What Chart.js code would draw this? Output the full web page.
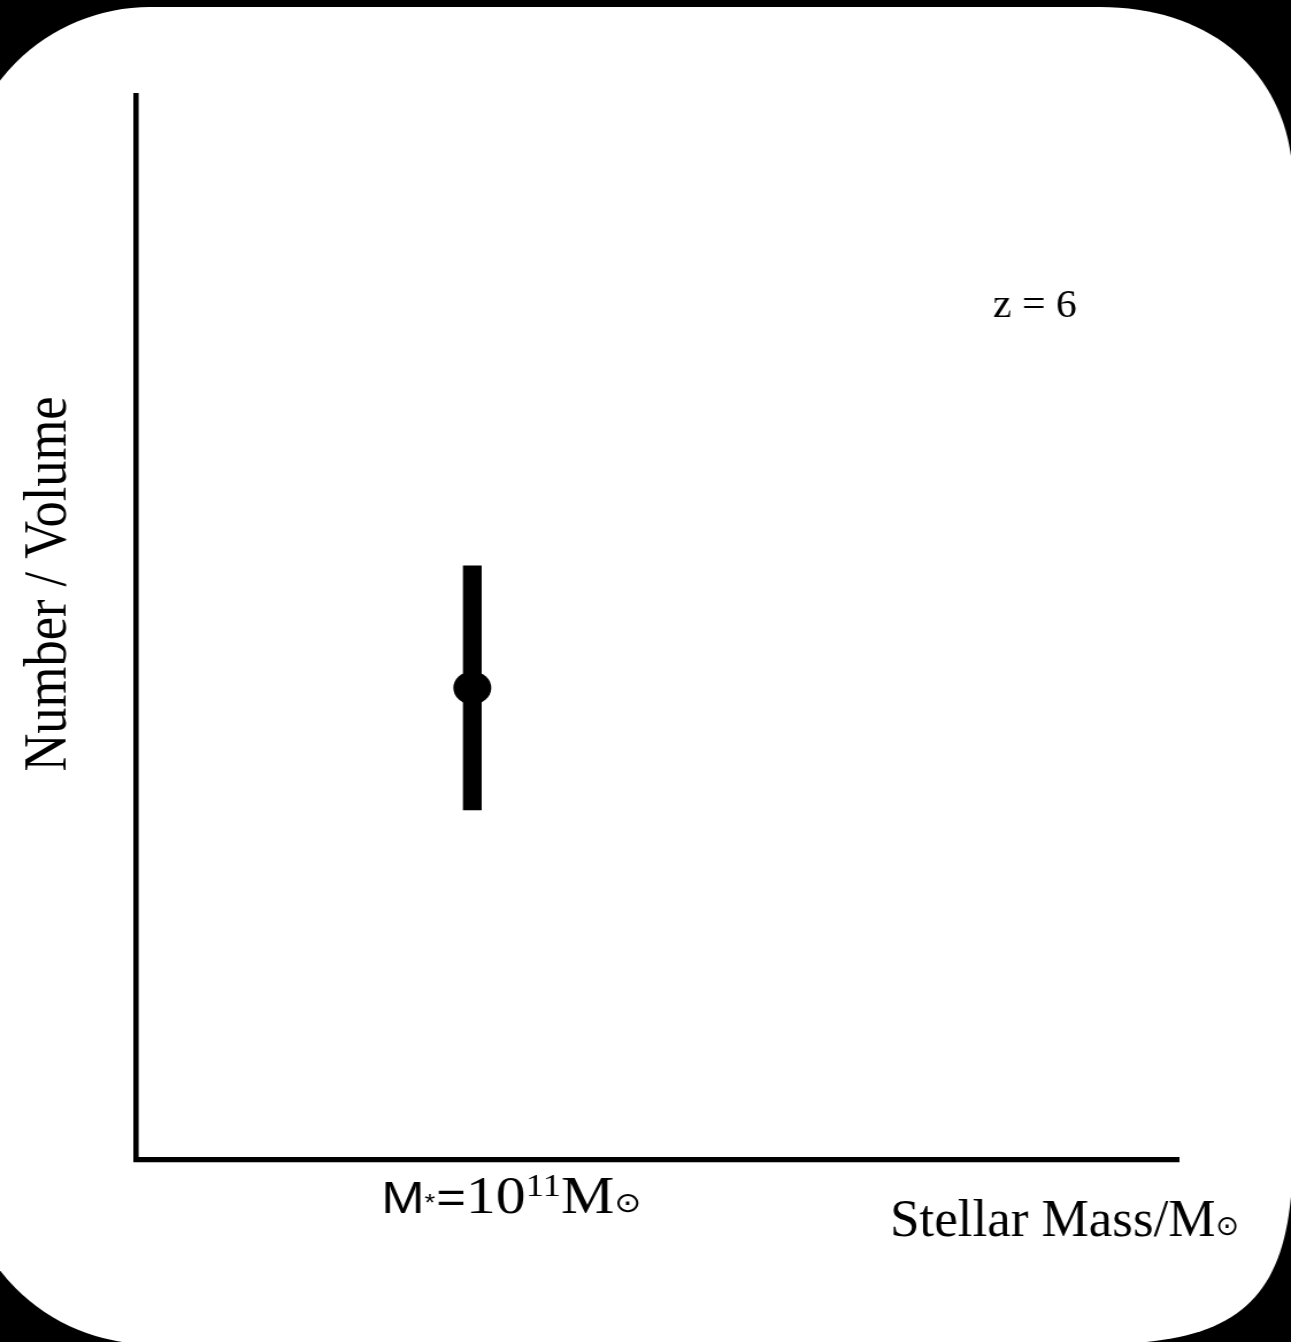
<!DOCTYPE html>
<html>
<head>
<meta charset="utf-8">
<script src="https://cdn.jsdelivr.net/npm/chart.js@4/dist/chart.umd.min.js"></script>
<style>
  html, body { margin: 0; padding: 0; background: #000; overflow: hidden; }
  #page { position: relative; width: 1291px; height: 1342px; overflow: hidden; }
  /* the slide is shown widened horizontally */
  #wrap { position: absolute; left: 0; top: 0; transform-origin: 0 0; }
  canvas { display: block; }
</style>
</head>
<body>
<div id="page"><div id="wrap"><canvas id="c"></canvas></div></div>
<script>
// Single measurement: log10 stellar mass and its number density (arbitrary units)
const massValues = [11];
const densityValues = [4.43];
const densityLow = [3.28];
const densityHigh = [5.58];

// Axis ranges
const xRange = [10, 13.1];
const yRange = [0, 10];

// Texts
const redshiftLabel = 'z = 6';
const xTitle = 'Stellar Mass/M';
const yTitle = 'Number / Volume';
const sunSymbol = '\u2299';

const PAGE_W = 1291, PAGE_H = 1342;
const STRETCH = 1.1496;
const CANVAS_W = Math.round(PAGE_W / STRETCH);
const SX = PAGE_W / CANVAS_W;

const SERIF = "'Liberation Serif', 'Times New Roman', 'DejaVu Serif', serif";
const SANS = "'Liberation Sans', Arial, 'DejaVu Sans', sans-serif";
const SYMBOL = "'DejaVu Sans', sans-serif";

const cv = document.getElementById('c');
cv.width = CANVAS_W;
cv.height = PAGE_H;
document.getElementById('wrap').style.transform = `scaleX(${SX})`;

// White rounded panel on black, laid out in page pixels
const panelPlugin = {
  id: 'panel',
  beforeDraw(chart) {
    const ctx = chart.ctx;
    ctx.save();
    ctx.fillStyle = '#000';
    ctx.fillRect(0, 0, chart.width, chart.height);
    ctx.scale(1 / SX, 1);
    const top = 7, bottom = 1344, left = -40, right = 1293, r = 190;
    ctx.beginPath();
    ctx.moveTo(left + r, top);
    ctx.lineTo(1100, top);
    ctx.bezierCurveTo(1100 + 0.6 * (right - 1100), top, right, 185 - 0.6 * (185 - top), right, 185);
    ctx.lineTo(right, 1150);
    ctx.bezierCurveTo(right, 1150 + 0.75 * (bottom - 1150), 1100 + 0.75 * (right - 1100), bottom, 1100, bottom);
    ctx.lineTo(left + r, bottom);
    ctx.arc(left + r, bottom - r, r, Math.PI / 2, Math.PI);
    ctx.lineTo(left, top + r);
    ctx.arc(left + r, top + r, r, Math.PI, Math.PI * 1.5);
    ctx.closePath();
    ctx.fillStyle = '#fff';
    ctx.fill();
    ctx.restore();
  }
};

// Vertical error bars from the low/high arrays
const errorBarPlugin = {
  id: 'errorBars',
  beforeDatasetsDraw(chart) {
    const ctx = chart.ctx;
    const xs = chart.scales.x, ys = chart.scales.y;
    ctx.save();
    ctx.strokeStyle = '#000';
    ctx.lineWidth = 16.3;
    ctx.lineCap = 'butt';
    massValues.forEach((m, i) => {
      const px = xs.getPixelForValue(m);
      ctx.beginPath();
      ctx.moveTo(px, ys.getPixelForValue(densityHigh[i]));
      ctx.lineTo(px, ys.getPixelForValue(densityLow[i]));
      ctx.stroke();
    });
    ctx.restore();
  }
};

// Draws a run of text pieces (page pixels) with its own horizontal scale
function drawRun(ctx, x, y, sx, pieces) {
  ctx.save();
  ctx.translate(x, y);
  ctx.scale(sx, 1);
  let cx = 0;
  pieces.forEach(p => {
    ctx.font = p.font;
    ctx.fillText(p.text, cx, -(p.rise || 0));
    cx += ctx.measureText(p.text).width + (p.gap || 0);
  });
  ctx.restore();
}

const textPlugin = {
  id: 'texts',
  afterDraw(chart) {
    const ctx = chart.ctx;
    const xs = chart.scales.x;
    ctx.save();
    ctx.scale(1 / SX, 1);   // work in page pixels
    ctx.fillStyle = '#000';
    ctx.textBaseline = 'alphabetic';
    ctx.textAlign = 'left';

    // Tick label under the measurement
    const tickPx = xs.getPixelForValue(massValues[0]) * SX;
    drawRun(ctx, tickPx - 91, 1213, 1.15, [
      { text: 'M', font: `45px ${SANS}` },
      { text: '*', font: `24px ${SANS}`, rise: 2, gap: 1 },
      { text: '=', font: `44px ${SANS}` },
      { text: '10', font: `52px ${SERIF}` },
      { text: '11', font: `32px ${SERIF}`, rise: 17 },
      { text: 'M', font: `52px ${SERIF}` },
      { text: sunSymbol, font: `28px ${SYMBOL}`, rise: 1 }
    ]);

    // X axis title
    drawRun(ctx, 890, 1236, 1.0, [
      { text: xTitle, font: `53px ${SERIF}` },
      { text: sunSymbol, font: `28px ${SYMBOL}`, rise: 1 }
    ]);

    // Redshift annotation
    drawRun(ctx, 993, 317, 1.07, [
      { text: redshiftLabel, font: `39px ${SERIF}` }
    ]);

    // Y axis title, rotated
    ctx.translate(65, 584);
    ctx.scale(1.15, 1);
    ctx.rotate(-Math.PI / 2);
    ctx.textAlign = 'center';
    ctx.font = `52.5px ${SERIF}`;
    ctx.fillText(yTitle, 0, 0);
    ctx.restore();
  }
};

new Chart(cv, {
  type: 'scatter',
  data: {
    datasets: [{
      data: massValues.map((m, i) => ({ x: m, y: densityValues[i] })),
      pointRadius: 16.5,
      pointHoverRadius: 16.5,
      backgroundColor: '#000',
      borderColor: '#000',
      borderWidth: 0
    }]
  },
  options: {
    responsive: false,
    animation: false,
    events: [],
    layout: { padding: { left: 136 / SX, right: CANVAS_W - 1178.5 / SX, top: 95, bottom: PAGE_H - 1159.5 } },
    plugins: { legend: { display: false }, tooltip: { enabled: false } },
    scales: {
      x: {
        type: 'linear', min: xRange[0], max: xRange[1],
        grid: { display: false, drawTicks: false },
        ticks: { display: false },
        border: { display: true, color: '#000', width: 5.3 }
      },
      y: {
        type: 'linear', min: yRange[0], max: yRange[1],
        grid: { display: false, drawTicks: false },
        ticks: { display: false },
        border: { display: true, color: '#000', width: 4.6 }
      }
    }
  },
  plugins: [panelPlugin, errorBarPlugin, textPlugin]
});
</script>
</body>
</html>
